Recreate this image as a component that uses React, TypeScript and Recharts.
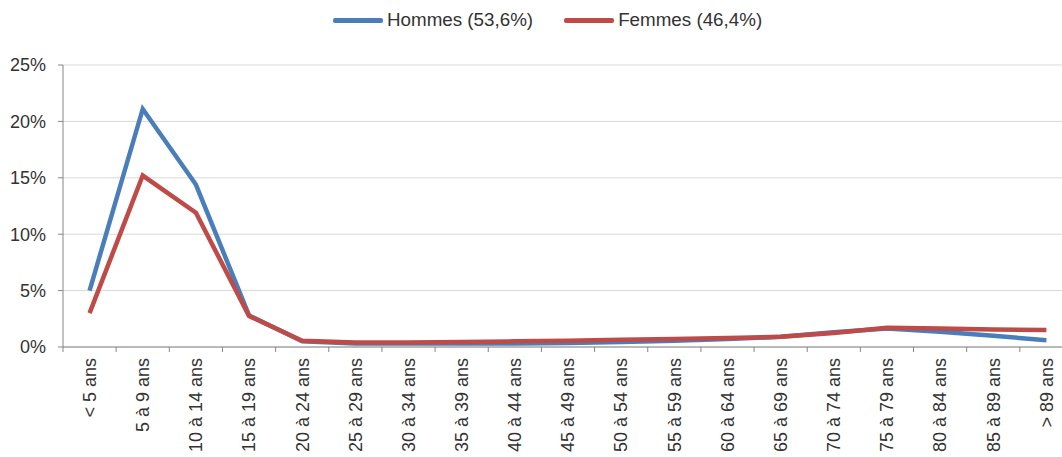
import { LineChart, Line, XAxis, YAxis, CartesianGrid, Legend } from "recharts";

const AGE_GROUPS = [
  "< 5 ans",
  "5 à 9 ans",
  "10 à 14 ans",
  "15 à 19 ans",
  "20 à 24 ans",
  "25 à 29 ans",
  "30 à 34 ans",
  "35 à 39 ans",
  "40 à 44 ans",
  "45 à 49 ans",
  "50 à 54 ans",
  "55 à 59 ans",
  "60 à 64 ans",
  "65 à 69 ans",
  "70 à 74 ans",
  "75 à 79 ans",
  "80 à 84 ans",
  "85 à 89 ans",
  "> 89 ans",
];

// share of each sex by age group, in %
const HOMMES = [5.0, 21.1, 14.4, 2.8, 0.5, 0.3, 0.3, 0.3, 0.3, 0.35, 0.45, 0.55, 0.7, 0.9, 1.3, 1.65, 1.35, 1.0, 0.6];
const FEMMES = [3.0, 15.2, 11.9, 2.75, 0.55, 0.4, 0.4, 0.45, 0.5, 0.55, 0.65, 0.7, 0.8, 0.9, 1.25, 1.7, 1.65, 1.55, 1.5];

const Y_TICKS = [0, 5, 10, 15, 20, 25];

const SERIES = [
  { key: "hommes", label: "Hommes (53,6%)", color: "#4a7ebb" },
  { key: "femmes", label: "Femmes (46,4%)", color: "#be4b48" },
];

const chartData = AGE_GROUPS.map((age, i) => ({
  age,
  hommes: HOMMES[i],
  femmes: FEMMES[i],
}));

const CHART_W = 1080;
const CHART_H = 457;
const MARGIN = { top: 0, right: 7, bottom: 0, left: 0 };
const Y_AXIS_W = 63;
const BAND = (CHART_W - MARGIN.left - MARGIN.right - Y_AXIS_W) / AGE_GROUPS.length;

const AXIS = "#868686";
const GRID = "#d9d9d9";
const TEXT = "#333333";
const FONT = "'Liberation Sans', Arial, sans-serif";

function AgeTick({ x, y, payload }: any) {
  const edge = x - BAND / 2;
  return (
    <g>
      <line x1={edge} x2={edge} y1={y - 11} y2={y - 6} stroke={AXIS} />
      <text
        x={x}
        y={y}
        dy="0.35em"
        transform={`rotate(-90, ${x}, ${y})`}
        textAnchor="end"
        fill={TEXT}
        fontSize={18}
        fontFamily={FONT}
      >
        {payload.value}
      </text>
    </g>
  );
}

function LegendRow() {
  return (
    <div style={{ height: 65, position: "relative" }}>
      <div
        style={{
          position: "absolute",
          left: 333,
          top: 9,
          display: "flex",
          alignItems: "center",
          gap: 31,
          fontFamily: FONT,
          fontSize: 18.8,
          lineHeight: "22px",
          color: TEXT,
          whiteSpace: "nowrap",
        }}
      >
        {SERIES.map((s) => (
          <div key={s.key} style={{ display: "flex", alignItems: "center" }}>
            <span
              style={{
                display: "inline-block",
                width: 50,
                height: 5,
                borderRadius: 2,
                background: s.color,
                marginRight: 4,
              }}
            />
            <span>{s.label}</span>
          </div>
        ))}
      </div>
    </div>
  );
}

export default function App() {
  return (
    <div
      style={{
        position: "absolute",
        left: 0,
        top: 0,
        width: 1062,
        height: CHART_H,
        overflow: "hidden",
        background: "#fff",
      }}
    >
      <LineChart width={CHART_W} height={CHART_H} data={chartData} margin={MARGIN}>
        <CartesianGrid vertical={false} stroke={GRID} />
        <XAxis
          dataKey="age"
          interval={0}
          height={110}
          padding={{ left: BAND / 2, right: BAND / 2 }}
          tickLine={false}
          tickSize={5}
          tickMargin={6}
          axisLine={{ stroke: AXIS }}
          tick={<AgeTick />}
        />
        <YAxis
          width={Y_AXIS_W}
          domain={[0, 25]}
          ticks={Y_TICKS}
          tickFormatter={(v: number) => `${v}%`}
          tickSize={5}
          tickMargin={12}
          axisLine={{ stroke: AXIS }}
          tickLine={{ stroke: AXIS }}
          tick={{ fill: TEXT, fontSize: 18, fontFamily: FONT }}
        />
        <Legend verticalAlign="top" content={<LegendRow />} />
        {SERIES.map((s) => (
          <Line
            key={s.key}
            type="linear"
            dataKey={s.key}
            stroke={s.color}
            strokeWidth={4.5}
            dot={false}
            isAnimationActive={false}
          />
        ))}
      </LineChart>
    </div>
  );
}
